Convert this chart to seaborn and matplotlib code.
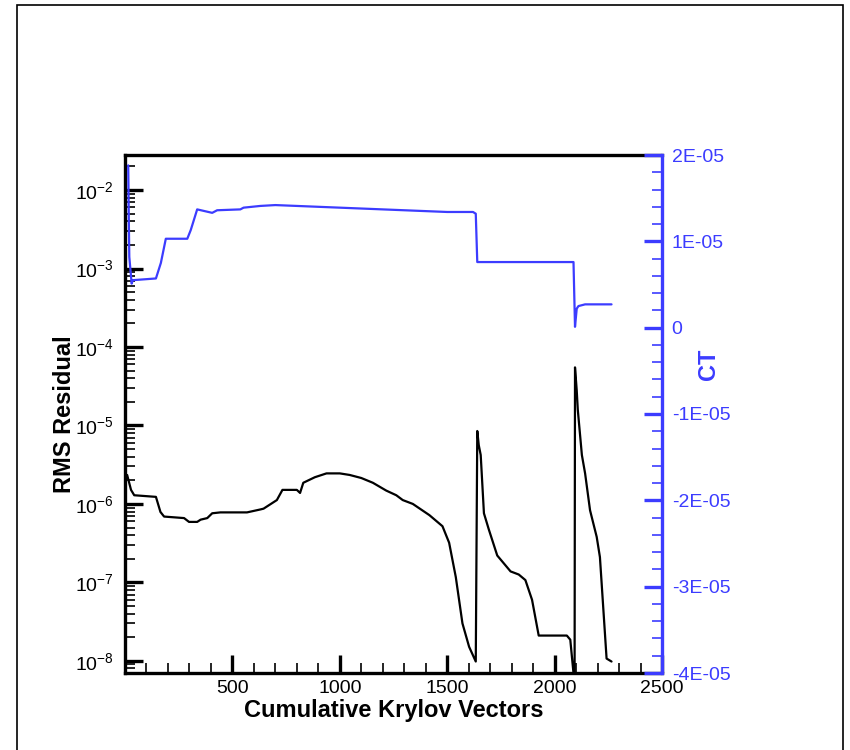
import matplotlib
matplotlib.use("Agg")
import numpy as np
import pandas as pd
import matplotlib.pyplot as plt
from matplotlib.ticker import FixedLocator, MultipleLocator, FuncFormatter, NullFormatter
from matplotlib.patches import Rectangle
import seaborn as sns

# Convergence history: RMS residual against cumulative Krylov vectors
krylov_res = [10, 28, 43, 144, 165, 182, 275, 298, 336, 352, 383, 406, 444, 568, 630,
              645, 707, 733, 800, 815, 830, 884, 938, 1000, 1046, 1100, 1154, 1216,
              1263, 1293, 1340, 1417, 1478, 1509, 1540, 1571, 1602, 1633, 1640, 1647,
              1656, 1671, 1694, 1733, 1795, 1833, 1864, 1895, 1926, 2057, 2073, 2093,
              2095, 2103, 2108, 2127, 2142, 2165, 2196, 2211, 2242, 2265]
rms_residual = [2.34e-6, 1.51e-6, 1.29e-6, 1.23e-6, 7.9e-7, 6.9e-7, 6.6e-7, 5.9e-7,
                5.9e-7, 6.3e-7, 6.6e-7, 7.6e-7, 7.8e-7, 7.8e-7, 8.5e-7, 8.7e-7,
                1.12e-6, 1.51e-6, 1.51e-6, 1.38e-6, 1.86e-6, 2.19e-6, 2.45e-6,
                2.45e-6, 2.34e-6, 2.14e-6, 1.86e-6, 1.48e-6, 1.29e-6, 1.12e-6,
                1.0e-6, 7.2e-7, 5.2e-7, 3.2e-7, 1.17e-7, 3.0e-8, 1.51e-8, 9.8e-9,
                8.5e-6, 5.6e-6, 4.2e-6, 7.6e-7, 4.7e-7, 2.2e-7, 1.38e-7, 1.26e-7,
                1.07e-7, 6.0e-8, 2.1e-8, 2.1e-8, 1.86e-8, 5.0e-9, 5.5e-5, 2.8e-5,
                1.58e-5, 4.2e-6, 2.45e-6, 8.3e-7, 3.8e-7, 2.1e-7, 1.07e-8, 9.8e-9]

# Thrust coefficient history
krylov_ct = [15, 18, 20, 31, 36, 144, 167, 190, 290, 306, 336, 406, 429, 537, 552,
             630, 700, 900, 1100, 1300, 1500, 1620, 1633, 1640, 2088, 2095, 2103,
             2111, 2142, 2265]
ct_values = [1.88e-5, 1.2e-5, 0.82e-5, 0.51e-5, 0.55e-5, 0.57e-5, 0.75e-5, 1.03e-5,
             1.03e-5, 1.13e-5, 1.37e-5, 1.33e-5, 1.36e-5, 1.37e-5, 1.39e-5, 1.41e-5,
             1.42e-5, 1.40e-5, 1.38e-5, 1.36e-5, 1.34e-5, 1.34e-5, 1.32e-5, 0.76e-5,
             0.76e-5, 0.01e-5, 0.22e-5, 0.25e-5, 0.27e-5, 0.27e-5]

x_major = [500, 1000, 1500, 2000, 2500]
residual_exponents = [-8, -7, -6, -5, -4, -3, -2]
ct_ticks = [-4e-5, -3e-5, -2e-5, -1e-5, 0.0, 1e-5, 2e-5]
ct_labels = ["-4E-05", "-3E-05", "-2E-05", "-1E-05", "0", "1E-05", "2E-05"]

BLUE = "#3c3cff"
BLACK = "black"
TICK_SIZE = 14
LABEL_SIZE = 17
Y_MIN, Y_MAX = 7.0e-9, 2.8e-2

sns.set_theme(style="white")
plt.rcParams["font.family"] = ["Liberation Sans", "DejaVu Sans"]
plt.rcParams["mathtext.fontset"] = "custom"
plt.rcParams["mathtext.rm"] = "Liberation Sans"
plt.rcParams["mathtext.it"] = "Liberation Sans:italic"
plt.rcParams["mathtext.bf"] = "Liberation Sans:bold"
plt.rcParams["mathtext.default"] = "regular"

fig = plt.figure(figsize=(8.5, 7.5), dpi=100)
fig.patch.set_facecolor("white")

# outer frame (open at the bottom edge)
fig.patches.append(Rectangle((17 / 850, -0.01), (843 - 17) / 850, 0.01 + 1 - 5 / 750,
                             transform=fig.transFigure, fill=False,
                             edgecolor="black", linewidth=1.2))

ax = fig.add_axes([125 / 850, 1 - 673 / 750, (662 - 125) / 850, (673 - 155) / 750])
ax2 = ax.twinx()

res_df = pd.DataFrame({"krylov": krylov_res, "residual": rms_residual})
ct_df = pd.DataFrame({"krylov": krylov_ct, "ct": ct_values})

sns.lineplot(data=res_df, x="krylov", y="residual", ax=ax, color=BLACK,
             linewidth=1.6, sort=False, estimator=None)
sns.lineplot(data=ct_df, x="krylov", y="ct", ax=ax2, color=BLUE,
             linewidth=1.6, sort=False, estimator=None)

# left axis: residual on log scale
ax.set_yscale("log")
ax.set_xlim(0, 2500)
ax.set_ylim(Y_MIN, Y_MAX)
major_y = [10.0 ** e for e in residual_exponents]
minor_y = [m * 10.0 ** e for e in range(-9, -1) for m in range(2, 10)
           if Y_MIN <= m * 10.0 ** e <= Y_MAX]
ax.yaxis.set_major_locator(FixedLocator(major_y))
ax.yaxis.set_minor_locator(FixedLocator(minor_y))
ax.yaxis.set_major_formatter(FuncFormatter(lambda v, p: r"$10^{%d}$" % round(np.log10(v))))
ax.yaxis.set_minor_formatter(NullFormatter())
ax.xaxis.set_major_locator(FixedLocator(x_major))
ax.xaxis.set_minor_locator(FixedLocator(list(range(100, 2500, 100))))
ax.xaxis.set_minor_formatter(NullFormatter())

ax.tick_params(axis="both", which="major", direction="in", length=13, width=2.4,
               color=BLACK, labelsize=TICK_SIZE, labelcolor=BLACK)
ax.tick_params(axis="both", which="minor", direction="in", length=7, width=1.2,
               color=BLACK)
ax.tick_params(axis="x", which="both", top=False, bottom=True, pad=5)
ax.tick_params(axis="y", which="both", left=True, right=False, pad=8)

for side in ["left", "bottom", "top"]:
    ax.spines[side].set_visible(True)
    ax.spines[side].set_color(BLACK)
    ax.spines[side].set_linewidth(2.4)
ax.spines["right"].set_visible(False)

# right axis: CT
ax2.set_ylim(-4e-5, 2e-5)
ax2.yaxis.set_major_locator(FixedLocator(ct_ticks))
ax2.set_yticklabels(ct_labels)
ax2.yaxis.set_minor_locator(FixedLocator([k * 2e-6 for k in range(-20, 11)]))
ax2.yaxis.set_minor_formatter(NullFormatter())
ax2.tick_params(axis="y", which="major", direction="in", length=13, width=2.4,
                color=BLUE, labelsize=TICK_SIZE, labelcolor=BLUE, pad=7)
ax2.tick_params(axis="y", which="minor", direction="in", length=7, width=1.2,
                color=BLUE)
for side in ["left", "bottom", "top"]:
    ax2.spines[side].set_visible(False)
ax2.spines["right"].set_visible(True)
ax2.spines["right"].set_color(BLUE)
ax2.spines["right"].set_linewidth(2.4)

ax.set_xlabel("Cumulative Krylov Vectors", fontsize=LABEL_SIZE, fontweight="bold",
              color=BLACK, va="center")
ax.xaxis.set_label_coords(0.5, -0.0725)
ax.set_ylabel("RMS Residual", fontsize=LABEL_SIZE, fontweight="bold", color=BLACK,
              va="center", ha="center")
ax.yaxis.set_label_coords(-0.112, 0.5)
ax2.set_ylabel("CT", fontsize=LABEL_SIZE, fontweight="bold", color=BLUE,
               va="center", ha="center")
ax2.yaxis.set_label_coords(1.0875, 0.5956)

fig.savefig("out.png", dpi=100, facecolor="white")
